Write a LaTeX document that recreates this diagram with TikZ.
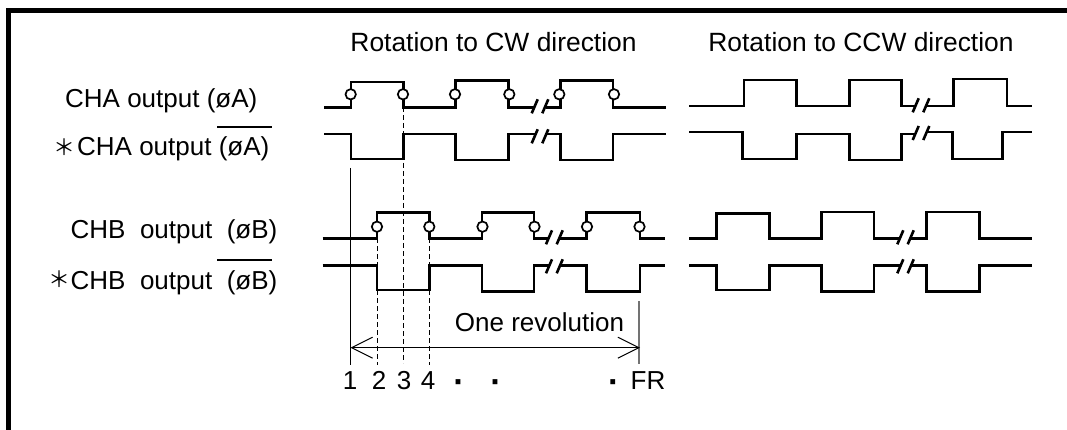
\documentclass[tikz,border=0pt]{standalone}
\usepackage{fontspec}
\setmainfont{Liberation Sans}
\newfontfamily\cjkfont{Noto Sans CJK JP}
\usetikzlibrary{arrows.meta}
\tikzset{
  label/.style={anchor=base west, inner sep=0pt, font=\fontsize{26}{30}\selectfont},
  head/.style={anchor=base, inner sep=0pt, font=\fontsize{26.4}{30}\selectfont},
  count/.style={anchor=base, inner sep=0pt, font=\fontsize{26}{30}\selectfont},
  dotmark/.style={anchor=base, inner sep=0pt, font=\bfseries\fontsize{34}{36}\selectfont},
  trace/.style={line width=2.6pt, miter limit=10},
  cutmark/.style={line width=2.6pt},
  edgering/.style={circle, draw, fill=white, line width=1.7pt, minimum size=10.4pt, inner sep=0pt},
  guide/.style={line width=1pt, dash pattern=on 5pt off 3pt},
  solidguide/.style={line width=1.1pt},
  endguide/.style={line width=1.6pt, color=black!55},
  starmark/.style={anchor=center, inner sep=0pt, font=\cjkfont\fontsize{22}{24}\selectfont},
  overbar/.style={line width=2pt}
}
\begin{document}
\begin{tikzpicture}[x=1pt, y=-1pt]
  \useasboundingbox (0,0) rectangle (1067,430);
  % frame, open on the right and below
  \draw[line width=5pt] (1067,10.5) -- (8.5,10.5) -- (8.5,430);

  % headings
  \node[head] (cwhead) at (493.5,52) {Rotation to CW direction};
  \node[head] (ccwhead) at (861,52) {Rotation to CCW direction};

  % signal names
  \node[label] (chaname) at (65,108) {CHA output (øA)};
  \node[label] (nchaname) at (77,156) {CHA output (øA)};
  \node[label] (chbname) at (70.5,239) {CHB\ \ output\ \ (øB)};
  \node[label] (nchbname) at (70.5,289) {CHB\ \ output\ \ (øB)};
  \node[starmark] (nchastar) at (64,147) {＊};
  \node[starmark] (nchbstar) at (59,279) {＊};
  \draw[overbar] (217,127) -- (272,127);
  \draw[overbar] (217,259.5) -- (272,259.5);

  % guides below the pulses
  \draw[solidguide] (350.5,168) -- (350.5,365);
  \draw[guide] (403.5,107) -- (403.5,363);
  \foreach \x in {377, 429.3} {
    \draw[guide] (\x,238) -- (\x,265);
    \draw[guide] (\x,290) -- (\x,365);
  }
  \draw[endguide] (639,301) -- (639,364);

  % CW direction
  \draw[trace] (324,107.3) -| (351,82) -| (403.7,107.3) -| (455.7,80.7) -| (508.7,107.3) -- (535,107.3);
  \draw[trace] (545.6,107.3) -| (560.7,80.7) -| (613,107.3) -- (666,107.3);
  \draw[trace] (324,134) -| (351,159) -| (403.7,134) -| (455.7,160) -| (508.7,134) -- (535,134);
  \draw[trace] (545.6,134) -| (560.7,160) -| (613,134) -- (666,134);
  \draw[trace] (322.5,238.3) -| (377,212.3) -| (429.3,238.3) -| (482,212.3) -| (534,238.3) -- (549,238.3);
  \draw[trace] (559.5,238.3) -| (586.7,212.3) -| (640,238.3) -- (665,238.3);
  \draw[trace] (322.5,265.3) -| (377,290) -| (429.3,265.3) -| (482,291.7) -| (534,265.3) -- (549,265.3);
  \draw[trace] (559.5,265.3) -| (586.7,291.7) -| (640,265.3) -- (665,265.3);

  % CCW direction
  \draw[trace] (689.3,106) -| (744,80) -| (796.7,106) -| (849.3,80) -| (901.3,106) -- (916,106);
  \draw[trace] (926.5,106) -| (953.3,79) -| (1007,106) -- (1032,106);
  \draw[trace] (689.3,132) -| (742.7,159) -| (796.3,134) -| (849.3,160) -| (901.3,134) -- (916,134);
  \draw[trace] (926.5,132) -| (952.7,159) -| (1002.7,132) -- (1032,132);
  \draw[trace] (689.3,238.3) -| (716.3,213.3) -| (769.3,238.3) -| (821.3,212) -| (874,238.3) -- (900,238.3);
  \draw[trace] (910.5,238.3) -| (926.3,212) -| (979.3,238.3) -- (1032,238.3);
  \draw[trace] (689.3,265.3) -| (716.3,290) -| (769.3,265.3) -| (821.3,291.7) -| (874,265.3) -- (900,265.3);
  \draw[trace] (910.5,265.3) -| (926.3,291.7) -| (979.3,265.3) -- (1032,265.3);

  % double cuts
  \foreach \x/\y in {531.7/113.3, 542.3/113.3, 531.7/143.3, 542.3/143.3,
                     546/244.3, 556.7/244.3, 546/273.3, 556.7/273.3,
                     912.7/112.3, 923.3/112.3, 912.7/140, 923.3/140,
                     897.3/244.3, 907.7/244.3, 897.3/273.3, 907.7/273.3} {
    \draw[cutmark] (\x,\y) -- ++(6,-14);
  }

  % rings on the edges
  \foreach \x/\n in {350.7/a, 403/b, 455/c, 509.3/d, 559.3/e, 614/f} {
    \node[edgering] (cha\n) at (\x,94.3) {};
  }
  \foreach \x/\n in {377/a, 429.3/b, 482.5/c, 534.5/d, 587/e, 639.5/f} {
    \node[edgering] (chb\n) at (\x,226.7) {};
  }

  % one revolution span
  \coordinate (revleft) at (350.5,347.7);
  \coordinate (revright) at (640,347.7);
  \draw[{Straight Barb[length=21pt,width=21pt,line width=1pt]}-{Straight Barb[length=21pt,width=21pt,line width=1pt]}, line width=1.3pt] (revleft) -- (revright);
  \node[count] (revname) at (539.5,331) {One revolution};

  % pulse counts
  \node[count] (cnta) at (350,389) {1};
  \node[count] (cntb) at (379,389) {2};
  \node[count] (cntc) at (404,389) {3};
  \node[count] (cntd) at (428,389) {4};
  \node[dotmark] (cnte) at (459,393.5) {·};
  \node[dotmark] (cntf) at (496,393.5) {·};
  \node[dotmark] (cntg) at (613.7,393.5) {·};
  \node[count] (cnth) at (648,389) {FR};
\end{tikzpicture}
\end{document}
